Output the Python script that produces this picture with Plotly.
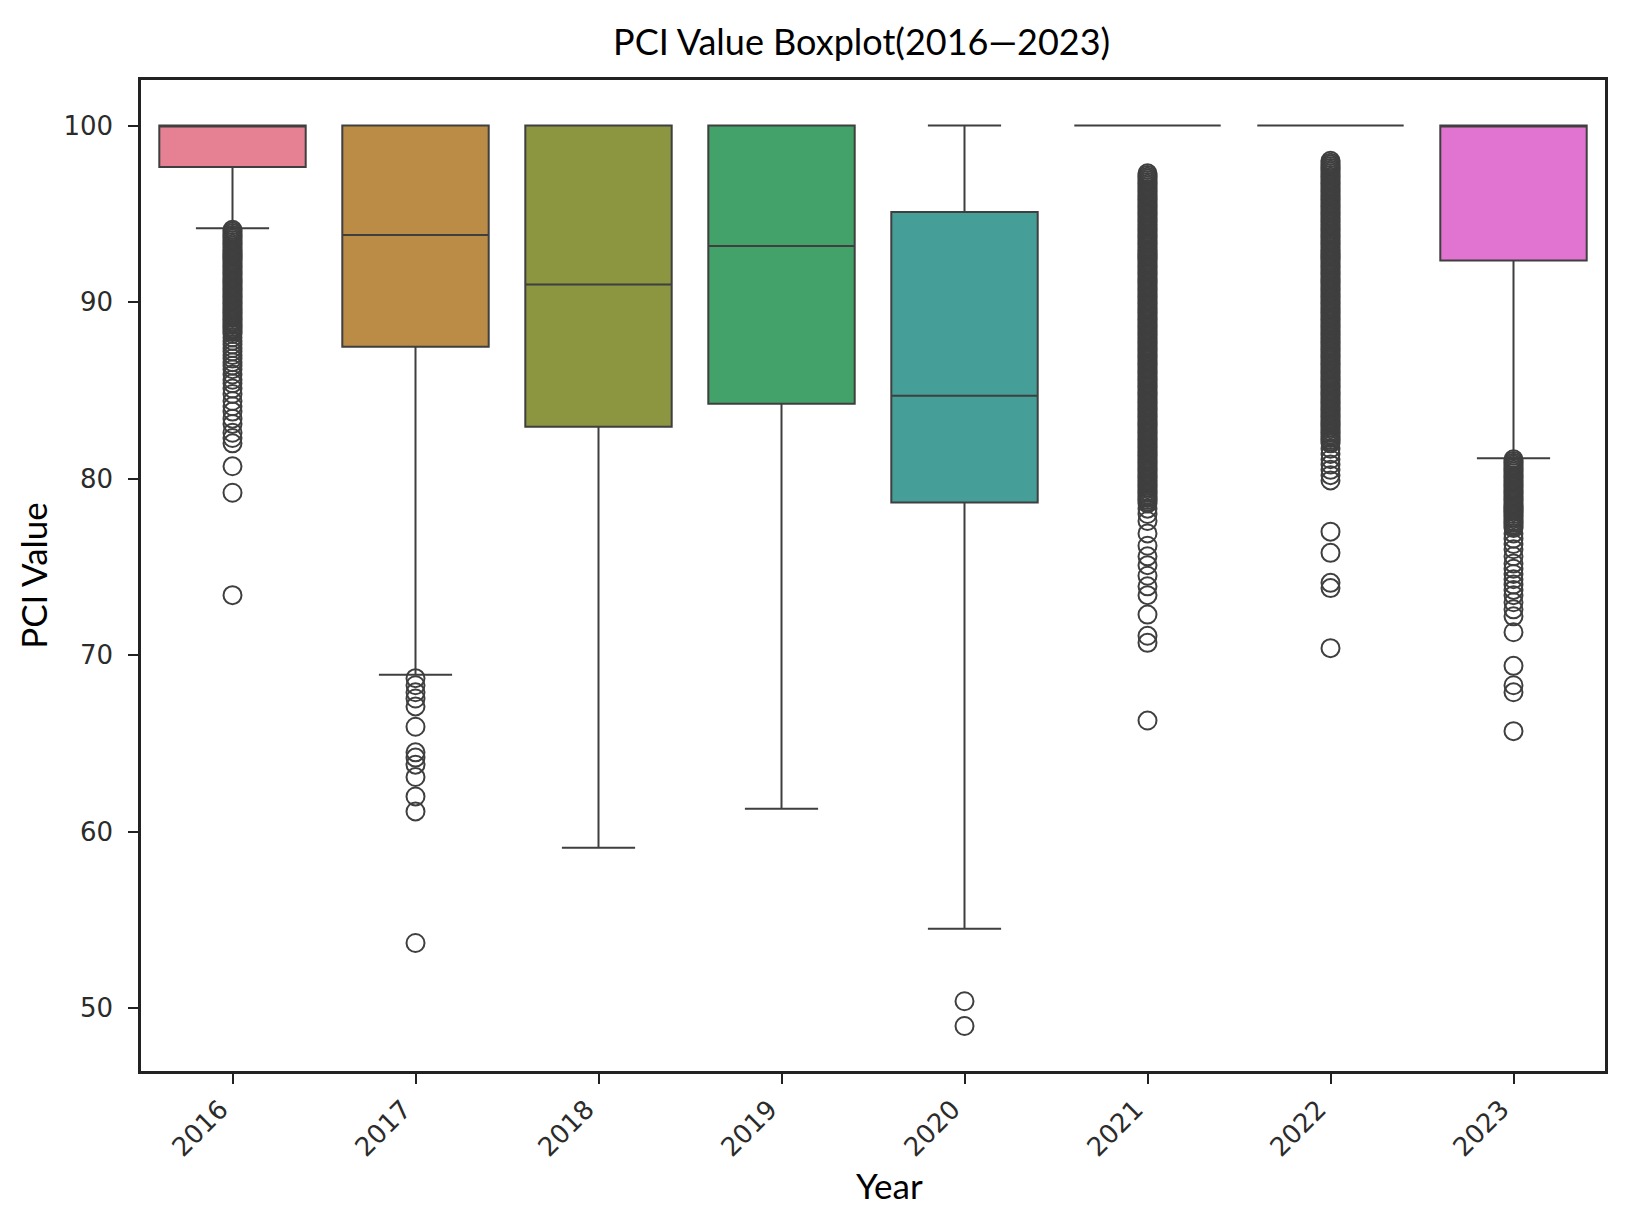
import plotly.graph_objects as go

# box statistics (PCI value per year)
years = ["2016", "2017", "2018", "2019", "2020", "2021", "2022", "2023"]
q1_vals = [97.65, 87.47, 82.94, 84.24, 78.65, 100.0, 100.0, 92.35]
median_vals = [100.0, 93.8, 91.0, 93.18, 84.7, 100.0, 100.0, 100.0]
q3_vals = [100.0, 100.0, 100.0, 100.0, 95.1, 100.0, 100.0, 100.0]
lower_whisker = [94.18, 68.9, 59.1, 61.3, 54.5, 100.0, 100.0, 81.15]
upper_whisker = [100.0, 100.0, 100.0, 100.0, 100.0, 100.0, 100.0, 100.0]

# outliers (dense columns read as closely packed values)
out_2016 = [
    94.1, 94.0, 93.9, 93.8, 93.7, 93.6, 93.5, 93.4, 93.3, 93.2, 93.1, 93.0,
    92.9, 92.8, 92.7, 92.6, 92.5, 92.4, 92.3, 92.2, 92.1, 92.0,
    91.9, 91.8, 91.7, 91.6, 91.5, 91.4, 91.3, 91.2, 91.1, 91.0,
    90.9, 90.8, 90.7, 90.6, 90.5, 90.4, 90.3, 90.2, 90.1, 90.0,
    89.9, 89.8, 89.7, 89.6, 89.5, 89.4, 89.3, 89.2, 89.1, 89.0,
    88.9, 88.8, 88.7, 88.6, 88.5, 88.4, 88.3, 88.2,
    88.0, 87.8, 87.6, 87.4, 87.2, 87.0, 86.8, 86.6, 86.4, 86.2, 85.9, 85.6,
    85.4, 85.1, 84.8, 84.4, 84.1, 83.8, 83.4, 83.1, 82.6, 82.3, 82.0,
    80.7, 79.2, 73.4,
]
out_2017 = [68.7, 68.3, 67.9, 67.55, 67.1, 65.95, 64.5, 64.2, 63.8, 63.1,
            62.0, 61.15, 53.7]
out_2018 = []
out_2019 = []
out_2020 = [50.4, 49.0]
out_2021 = [
    97.3, 97.2, 97.1, 97.0,
    96.9, 96.8, 96.7, 96.6, 96.5, 96.4, 96.3, 96.2, 96.1, 96.0,
    95.9, 95.8, 95.7, 95.6, 95.5, 95.4, 95.3, 95.2, 95.1, 95.0,
    94.9, 94.8, 94.7, 94.6, 94.5, 94.4, 94.3, 94.2, 94.1, 94.0,
    93.9, 93.8, 93.7, 93.6, 93.5, 93.4, 93.3, 93.2, 93.1, 93.0,
    92.9, 92.8, 92.7, 92.6, 92.5, 92.4, 92.3, 92.2, 92.1, 92.0,
    91.9, 91.8, 91.7, 91.6, 91.5, 91.4, 91.3, 91.2, 91.1, 91.0,
    90.9, 90.8, 90.7, 90.6, 90.5, 90.4, 90.3, 90.2, 90.1, 90.0,
    89.9, 89.8, 89.7, 89.6, 89.5, 89.4, 89.3, 89.2, 89.1, 89.0,
    88.9, 88.8, 88.7, 88.6, 88.5, 88.4, 88.3, 88.2, 88.1, 88.0,
    87.9, 87.8, 87.7, 87.6, 87.5, 87.4, 87.3, 87.2, 87.1, 87.0,
    86.9, 86.8, 86.7, 86.6, 86.5, 86.4, 86.3, 86.2, 86.1, 86.0,
    85.9, 85.8, 85.7, 85.6, 85.5, 85.4, 85.3, 85.2, 85.1, 85.0,
    84.9, 84.8, 84.7, 84.6, 84.5, 84.4, 84.3, 84.2, 84.1, 84.0,
    83.9, 83.8, 83.7, 83.6, 83.5, 83.4, 83.3, 83.2, 83.1, 83.0,
    82.9, 82.8, 82.7, 82.6, 82.5, 82.4, 82.3, 82.2, 82.1, 82.0,
    81.9, 81.8, 81.7, 81.6, 81.5, 81.4, 81.3, 81.2, 81.1, 81.0,
    80.9, 80.8, 80.7, 80.6, 80.5, 80.4, 80.3, 80.2, 80.1, 80.0,
    79.9, 79.8, 79.7, 79.6, 79.5, 79.4, 79.3, 79.2, 79.1, 79.0,
    78.9, 78.8, 78.7, 78.6, 78.3, 78.0,
    77.6, 76.9, 76.2, 75.6, 75.1, 74.5, 73.9, 73.4, 72.3, 71.1, 70.7, 66.3,
]
out_2022 = [
    98.0,
    97.9, 97.8, 97.7, 97.6, 97.5, 97.4, 97.3, 97.2, 97.1, 97.0,
    96.9, 96.8, 96.7, 96.6, 96.5, 96.4, 96.3, 96.2, 96.1, 96.0,
    95.9, 95.8, 95.7, 95.6, 95.5, 95.4, 95.3, 95.2, 95.1, 95.0,
    94.9, 94.8, 94.7, 94.6, 94.5, 94.4, 94.3, 94.2, 94.1, 94.0,
    93.9, 93.8, 93.7, 93.6, 93.5, 93.4, 93.3, 93.2, 93.1, 93.0,
    92.9, 92.8, 92.7, 92.6, 92.5, 92.4, 92.3, 92.2, 92.1, 92.0,
    91.9, 91.8, 91.7, 91.6, 91.5, 91.4, 91.3, 91.2, 91.1, 91.0,
    90.9, 90.8, 90.7, 90.6, 90.5, 90.4, 90.3, 90.2, 90.1, 90.0,
    89.9, 89.8, 89.7, 89.6, 89.5, 89.4, 89.3, 89.2, 89.1, 89.0,
    88.9, 88.8, 88.7, 88.6, 88.5, 88.4, 88.3, 88.2, 88.1, 88.0,
    87.9, 87.8, 87.7, 87.6, 87.5, 87.4, 87.3, 87.2, 87.1, 87.0,
    86.9, 86.8, 86.7, 86.6, 86.5, 86.4, 86.3, 86.2, 86.1, 86.0,
    85.9, 85.8, 85.7, 85.6, 85.5, 85.4, 85.3, 85.2, 85.1, 85.0,
    84.9, 84.8, 84.7, 84.6, 84.5, 84.4, 84.3, 84.2, 84.1, 84.0,
    83.9, 83.8, 83.7, 83.6, 83.5, 83.4, 83.3, 83.2, 83.1, 83.0,
    82.9, 82.8, 82.7, 82.6, 82.5, 82.4, 82.3, 82.2, 82.1, 82.0,
    81.7, 81.4, 81.1, 80.8, 80.5, 80.2, 79.9,
    77.0, 75.8, 74.1, 73.8, 70.4,
]
out_2023 = [
    81.1, 81.0,
    80.9, 80.8, 80.7, 80.6, 80.5, 80.4, 80.3, 80.2, 80.1, 80.0,
    79.9, 79.8, 79.7, 79.6, 79.5, 79.4, 79.3, 79.2, 79.1, 79.0,
    78.9, 78.8, 78.7, 78.6, 78.5, 78.4, 78.3, 78.2, 78.1, 78.0,
    77.9, 77.8, 77.7, 77.6, 77.5, 77.4, 77.3, 77.2,
    76.9, 76.6, 76.3, 76.0, 75.6, 75.2, 74.9, 74.6, 74.3, 74.0, 73.7, 73.4,
    73.0, 72.6, 72.2, 71.3, 69.4, 68.3, 67.9, 65.7,
]
outliers = [out_2016, out_2017, out_2018, out_2019, out_2020, out_2021,
            out_2022, out_2023]

# seaborn husl palette, desaturated
colors = ["#e68193", "#bb8c45", "#8c9540", "#42a269",
          "#459e97", "#4c9fbd", "#ab99e7", "#e274d1"]
edge = "#3f3f3f"

fig = go.Figure()
for i, yr in enumerate(years):
    fig.add_trace(go.Box(
        x=[yr],
        q1=[q1_vals[i]],
        median=[median_vals[i]],
        q3=[q3_vals[i]],
        lowerfence=[lower_whisker[i]],
        upperfence=[upper_whisker[i]],
        fillcolor=colors[i],
        line=dict(color=edge, width=2),
        whiskerwidth=0.5,
        width=0.8,
        boxpoints=False,
        name=yr,
        showlegend=False,
    ))

for i, yr in enumerate(years):
    if not outliers[i]:
        continue
    fig.add_trace(go.Scatter(
        x=[yr] * len(outliers[i]),
        y=outliers[i],
        mode="markers",
        marker=dict(symbol="circle-open", size=18, color=edge,
                    line=dict(width=2, color=edge)),
        showlegend=False,
        hoverinfo="y",
    ))

tickfont = dict(family="DejaVu Sans", size=26, color="#2b2b2b")
titlefont = dict(family="Lato", size=35, color="black")

fig.update_layout(
    width=1629, height=1223,
    margin=dict(l=133, r=32, t=72, b=160),
    paper_bgcolor="white", plot_bgcolor="white",
    title=dict(text="PCI Value Boxplot(2016—2023)", x=0.524, xanchor="center",
               y=0.9715, yanchor="middle",
               font=dict(family="Lato", size=36, color="black")),
    boxmode="overlay",
    xaxis=dict(
        type="category", categoryorder="array", categoryarray=years,
        range=[-0.5, 7.5], tickangle=-45, tickfont=tickfont,
        ticks="outside", ticklen=10, tickwidth=2, tickcolor="#222222",
        ticklabelstandoff=0, ticklabelshift=-12,
        showline=True, linewidth=2.5, linecolor="#222222", mirror=True,
        showgrid=False, zeroline=False,
    ),
    yaxis=dict(
        range=[46.45, 102.58], tickvals=[50, 60, 70, 80, 90, 100],
        tickfont=tickfont,
        ticks="outside", ticklen=10, tickwidth=2, tickcolor="#222222",
        ticklabelstandoff=10,
        showline=True, linewidth=2.5, linecolor="#222222", mirror=True,
        showgrid=False, zeroline=False,
        title=dict(text="PCI Value", font=titlefont, standoff=6),
    ),
    annotations=[dict(
        text="Year", font=titlefont, showarrow=False,
        xref="paper", yref="paper", x=0.511, y=-0.115,
        xanchor="center", yanchor="middle",
    )],
)

fig.write_html("out.html")
